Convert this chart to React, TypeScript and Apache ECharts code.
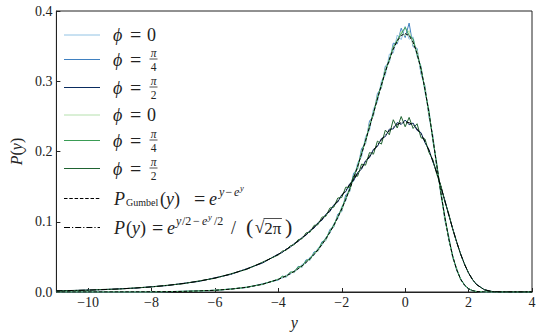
import React, { useEffect, useRef } from 'react';
import * as echarts from 'echarts';

const FF = 'Liberation Serif';

// shared y grid (x-axis values)
const yGrid = [
  -11, -10.5, -10, -9.5, -9, -8.5, -8, -7.5, -7, -6.5, -6, -5.5, -5, -4.5,
  -4, -3.875, -3.75, -3.625, -3.5, -3.375, -3.25, -3.125, -3, -2.875, -2.75, -2.625, -2.5, -2.375, -2.25, -2.125,
  -2, -1.875, -1.75, -1.625, -1.5, -1.375, -1.25, -1.125, -1, -0.875, -0.75, -0.625, -0.5, -0.375, -0.25, -0.125,
  0, 0.125, 0.25, 0.375, 0.5, 0.625, 0.75, 0.875, 1, 1.125, 1.25, 1.375, 1.5, 1.625, 1.75, 1.875,
  2, 2.125, 2.25,
  2.5, 2.75, 3, 3.5, 4,
];

const gumbelVals = [
  0.00002, 0.00003, 0.00005, 0.00007, 0.00012, 0.0002, 0.00034, 0.00055, 0.00091, 0.0015, 0.00247, 0.00407, 0.00669, 0.01099,
  0.01799, 0.02033, 0.02298, 0.02595, 0.0293, 0.03307, 0.0373, 0.04205, 0.04737, 0.05332, 0.05997, 0.06738, 0.07562, 0.08475, 0.09486, 0.106,
  0.1182, 0.13155, 0.1461, 0.16172, 0.1785, 0.19636, 0.2151, 0.23464, 0.2546, 0.27475, 0.2945, 0.31339, 0.3307, 0.34566, 0.3574, 0.36513,
  0.3679, 0.36489, 0.3556, 0.3396, 0.3171, 0.28844, 0.2549, 0.21787, 0.1794, 0.14154, 0.1064, 0.07577, 0.0507, 0.03164, 0.01823, 0.0096,
  0.00457, 0.00194, 0.00072,
  0.00006, 0, 0, 0, 0,
];

const wideVals = [
  0.00163, 0.00209, 0.00269, 0.00345, 0.00443, 0.00568, 0.00731, 0.00938, 0.01204, 0.01546, 0.01984, 0.02545, 0.03264, 0.04182,
  0.05351, 0.05688, 0.06048, 0.06427, 0.06829, 0.07255, 0.07705, 0.08181, 0.08683, 0.09212, 0.0977, 0.10356, 0.10971, 0.11614, 0.12287, 0.12989,
  0.13716, 0.1447, 0.15249, 0.16043, 0.16855, 0.17679, 0.18503, 0.19325, 0.2013, 0.20912, 0.2165, 0.22333, 0.2294, 0.23455, 0.2385, 0.24107,
  0.242, 0.24099, 0.2379, 0.23249, 0.2247, 0.21426, 0.2014, 0.18622, 0.169, 0.15009, 0.1301, 0.10982, 0.0898, 0.07096, 0.0539, 0.03909,
  0.027, 0.01755, 0.0107,
  0.00315, 0.00063, 0.00008, 0, 0,
];

const blue0 = [
  0, 0, 0, 0, 0, 0, 0.0001, 0.0005, 0.0011, 0.0013, 0.0027, 0.0038, 0.0072, 0.0105,
  0.0186, 0.0198, 0.0238, 0.0252, 0.0301, 0.0322, 0.0395, 0.0409, 0.0498, 0.0521, 0.0625, 0.0662, 0.0781, 0.0835, 0.0972, 0.1043,
  0.1218, 0.1295, 0.1512, 0.1578, 0.1842, 0.1921, 0.2215, 0.2298, 0.2612, 0.2701, 0.3008, 0.3082, 0.3385, 0.3401, 0.3658, 0.3592,
  0.3782, 0.3598, 0.3631, 0.3352, 0.3218, 0.2841, 0.2592, 0.2138, 0.1832, 0.1378, 0.1088, 0.0738, 0.0522, 0.0302, 0.0192, 0.0088,
  0.0046, 0.0019, 0.0007,
  0.0001, 0, 0, 0, 0,
];

const blue4 = [
  0, 0, 0, 0, 0, 0, 0.0002, 0.0004, 0.0008, 0.0017, 0.0022, 0.0044, 0.0064, 0.0116,
  0.0172, 0.0225, 0.0211, 0.0284, 0.0275, 0.0365, 0.0352, 0.0458, 0.0452, 0.0571, 0.0578, 0.0715, 0.0732, 0.0891, 0.0925, 0.1108,
  0.1145, 0.1382, 0.1428, 0.1691, 0.1748, 0.2042, 0.2111, 0.2432, 0.2508, 0.2825, 0.2901, 0.3215, 0.3268, 0.3542, 0.3532, 0.3755,
  0.3622, 0.3828, 0.3492, 0.3468, 0.3105, 0.2932, 0.2495, 0.2221, 0.1748, 0.1452, 0.1022, 0.0791, 0.0485, 0.0335, 0.0172, 0.0105,
  0.0043, 0.0021, 0.0006,
  0, 0, 0, 0, 0,
];

const blue2 = [
  0.0017, 0.0021, 0.0028, 0.0034, 0.0046, 0.0055, 0.0075, 0.0092, 0.0123, 0.0151, 0.0202, 0.0251, 0.0331, 0.0412,
  0.0541, 0.0562, 0.0612, 0.0635, 0.0692, 0.0718, 0.0779, 0.0808, 0.0878, 0.0908, 0.0988, 0.1021, 0.1108, 0.1145, 0.1242, 0.1281,
  0.1385, 0.1428, 0.1541, 0.1585, 0.1702, 0.1748, 0.1868, 0.1912, 0.2032, 0.2071, 0.2185, 0.2212, 0.2318, 0.2321, 0.2412, 0.2385,
  0.2448, 0.2381, 0.2405, 0.2301, 0.2268, 0.2125, 0.2028, 0.1851, 0.1702, 0.1495, 0.1308, 0.1095, 0.0902, 0.0708, 0.0541, 0.0392,
  0.0271, 0.0176, 0.0108,
  0.0032, 0.0006, 0.0001, 0, 0,
];

const green0 = [
  0, 0, 0, 0, 0, 0, 0.0001, 0.0006, 0.001, 0.0014, 0.0026, 0.004, 0.007, 0.0108,
  0.0182, 0.0219, 0.0216, 0.0276, 0.0279, 0.0348, 0.0358, 0.0438, 0.0458, 0.0551, 0.0581, 0.0695, 0.0738, 0.0868, 0.0931, 0.1085,
  0.1161, 0.1345, 0.1442, 0.1652, 0.1762, 0.2002, 0.2128, 0.2391, 0.2525, 0.2791, 0.2918, 0.3181, 0.3285, 0.3502, 0.3555, 0.3712,
  0.3645, 0.3722, 0.3518, 0.3442, 0.3138, 0.2912, 0.2518, 0.2202, 0.1768, 0.1435, 0.1041, 0.0775, 0.0491, 0.0331, 0.0172, 0.0102,
  0.0045, 0.002, 0.0007,
  0, 0, 0, 0, 0,
];

const green4 = [
  0, 0, 0, 0, 0, 0, 0.0001, 0.0005, 0.0009, 0.0016, 0.0024, 0.0042, 0.0066, 0.0112,
  0.0178, 0.0222, 0.0222, 0.0281, 0.0291, 0.0355, 0.0371, 0.0442, 0.0475, 0.0551, 0.0602, 0.0698, 0.0765, 0.0862, 0.0958, 0.1071,
  0.1195, 0.1332, 0.1465, 0.1635, 0.1792, 0.1978, 0.2162, 0.2351, 0.2555, 0.2762, 0.2952, 0.3145, 0.3311, 0.3482, 0.3588, 0.3675,
  0.3768, 0.3652, 0.3605, 0.3381, 0.3195, 0.2868, 0.2575, 0.2162, 0.1812, 0.1405, 0.1075, 0.0762, 0.0508, 0.0318, 0.0182, 0.0098,
  0.0047, 0.0018, 0.0008,
  0.0001, 0, 0, 0, 0,
];

const green2 = [
  0.0015, 0.0022, 0.0026, 0.0037, 0.0042, 0.0059, 0.0072, 0.0096, 0.0118, 0.0158, 0.0195, 0.0259, 0.0322, 0.0425,
  0.0528, 0.0582, 0.0595, 0.0658, 0.0672, 0.0745, 0.0758, 0.0842, 0.0851, 0.0948, 0.0958, 0.1065, 0.1078, 0.1195, 0.1208, 0.1338,
  0.1345, 0.1492, 0.1488, 0.1652, 0.1648, 0.1821, 0.1805, 0.1985, 0.1962, 0.2148, 0.2105, 0.2305, 0.2238, 0.2452, 0.2335, 0.2498,
  0.2352, 0.2485, 0.2328, 0.2395, 0.2195, 0.2178, 0.1985, 0.1881, 0.1672, 0.1518, 0.1288, 0.1112, 0.0891, 0.0715, 0.0535, 0.0395,
  0.0268, 0.0178, 0.0106,
  0.0031, 0.0006, 0.0001, 0, 0,
];

const xTicks = [-10, -8, -6, -4, -2, 0, 2, 4];

const COLORS = {
  b0: '#92c3e4',
  b4: '#3f80c0',
  b2: '#0a2c60',
  g0: '#b5e0ad',
  g4: '#3a9c55',
  g2: '#1f6331',
};
const DASH = [3.5, 1.8];
const DASHDOT = [6, 2, 1.2, 2];
const INK = '#222';

type Piece = {
  t?: string;
  s?: number;
  it?: boolean;
  dy?: number;
  ax?: number;
  frac?: [string, string];
  sqrt?: string;
};

let ctx2d: CanvasRenderingContext2D | null = null;
function tw(text: string, size: number, italic: boolean): number {
  if (!ctx2d) ctx2d = document.createElement('canvas').getContext('2d');
  if (!ctx2d) return text.length * size * 0.5;
  ctx2d.font = `${italic ? 'italic ' : ''}${size}px '${FF}'`;
  return ctx2d.measureText(text).width;
}

function textEl(t: string, x: number, y: number, s: number, it: boolean, align = 'left') {
  return {
    type: 'text',
    x,
    y,
    silent: true,
    style: {
      text: t,
      fontSize: s,
      fontFamily: FF,
      fontStyle: it ? 'italic' : 'normal',
      fill: INK,
      align,
      textAlign: align,
      verticalAlign: 'middle',
      textVerticalAlign: 'middle',
    },
  };
}

function lineEl(x1: number, y1: number, x2: number, y2: number, color = INK, dash?: number[], w = 1) {
  return {
    type: 'line',
    silent: true,
    shape: { x1, y1, x2, y2 },
    style: { stroke: color, lineWidth: w, lineDash: dash },
  };
}

function buildRow(yc: number, ps: Piece[], els: any[]) {
  let x = 0;
  for (const p of ps) {
    if (p.ax != null) x = p.ax;
    if (p.frac) {
      const s = p.s ?? 11.5;
      const w = 9;
      els.push(textEl(p.frac[0], x + w / 2, yc - 6.5, s, true, 'center'));
      els.push(lineEl(x + 0.5, yc - 0.5, x + w - 0.5, yc - 0.5, INK, undefined, 0.8));
      els.push(textEl(p.frac[1], x + w / 2, yc + 7.5, s, false, 'center'));
      x += w;
      continue;
    }
    if (p.sqrt) {
      const s = 17;
      const rw = tw('√', s, false);
      els.push(textEl('√', x, yc, s, false));
      x += rw;
      const w = tw(p.sqrt, s, false);
      els.push(lineEl(x - 0.8, yc - 9, x + w + 0.5, yc - 9, INK, undefined, 0.8));
      els.push(textEl(p.sqrt, x, yc + 1, s, false));
      x += w;
      continue;
    }
    const s = p.s ?? 18;
    const it = !!p.it;
    els.push(textEl(p.t as string, x, yc + (p.dy ?? 0), s, it));
    x += tw(p.t as string, s, it);
  }
}

function buildLegend() {
  const els: any[] = [];
  const phiHead: Piece[] = [{ t: 'ϕ', it: true, ax: 113 }, { t: '=', s: 20, ax: 130 }];
  const phi0: Piece[] = [...phiHead, { t: '0', ax: 147 }];
  const phi4: Piece[] = [...phiHead, { frac: ['π', '4'], ax: 149 }];
  const phi2: Piece[] = [...phiHead, { frac: ['π', '2'], ax: 149 }];
  const SS = 12;
  const gum: Piece[] = [
    { t: 'P', it: true, ax: 114 },
    { t: 'Gumbel', s: 10, dy: 4, ax: 126 },
    { t: '(', ax: 160 },
    { t: 'y', it: true },
    { t: ')' },
    { t: '=', s: 20, ax: 194 },
    { t: 'e', it: true, ax: 209 },
    { t: 'y', it: true, s: SS, dy: -7, ax: 219 },
    { t: '−', s: SS, dy: -7, ax: 225.5 },
    { t: 'e', it: true, s: SS, dy: -7, ax: 234 },
    { t: 'y', it: true, s: 8.5, dy: -10.5, ax: 240 },
  ];
  const pdf: Piece[] = [
    { t: 'P', it: true, ax: 114 },
    { t: '(', ax: 126 },
    { t: 'y', it: true },
    { t: ')' },
    { t: '=', s: 20, ax: 152 },
    { t: 'e', it: true, ax: 167 },
    { t: 'y', it: true, s: SS, dy: -7, ax: 176 },
    { t: '/2', s: SS, dy: -7, ax: 182 },
    { t: '−', s: SS, dy: -7, ax: 193 },
    { t: 'e', it: true, s: SS, dy: -7, ax: 202 },
    { t: 'y', it: true, s: 8.5, dy: -10.5, ax: 208 },
    { t: '/2', s: SS, dy: -7, ax: 214 },
    { t: '/', ax: 231 },
    { t: '(', s: 22, dy: -1, ax: 246 },
    { sqrt: '2π', ax: 255 },
    { t: ')', s: 22, dy: -1, ax: 285 },
  ];
  const rows: { y: number; color: string; dash?: number[]; pieces: Piece[] }[] = [
    { y: 35, color: COLORS.b0, pieces: phi0 },
    { y: 59.5, color: COLORS.b4, pieces: phi4 },
    { y: 87.5, color: COLORS.b2, pieces: phi2 },
    { y: 115, color: COLORS.g0, pieces: phi0 },
    { y: 140.5, color: COLORS.g4, pieces: phi4 },
    { y: 168.5, color: COLORS.g2, pieces: phi2 },
    { y: 198.5, color: '#000', dash: DASH, pieces: gum },
    { y: 227.5, color: '#000', dash: DASHDOT, pieces: pdf },
  ];
  for (const r of rows) {
    els.push(lineEl(64, r.y, 100, r.y, r.color, r.dash));
    buildRow(r.y, r.pieces, els);
  }
  return els;
}

function zip(vals: number[]) {
  return yGrid.map((x, i) => [x, vals[i]]);
}

export default function App() {
  const ref = useRef<HTMLDivElement>(null);
  useEffect(() => {
    if (!ref.current) return;
    const chart = echarts.init(ref.current, undefined, { renderer: 'svg' });
    const mk = (name: string, vals: number[], color: string, dash?: number[]) => ({
      name,
      type: 'line',
      data: zip(vals),
      symbol: 'none',
      showSymbol: false,
      silent: true,
      lineStyle: { color, width: 1, type: dash ?? 'solid' },
      itemStyle: { color },
    });
    chart.setOption({
      animation: false,
      backgroundColor: '#fff',
      grid: {
        left: 48,
        right: 8,
        top: 11,
        bottom: 41,
        show: true,
        borderColor: '#222',
        borderWidth: 1,
        backgroundColor: 'transparent',
      },
      xAxis: {
        type: 'value',
        min: -11,
        max: 4,
        splitLine: { show: false },
        axisLine: { show: true, onZero: false, lineStyle: { color: '#222', width: 1 } },
        axisTick: { show: true, inside: true, length: 4, customValues: xTicks, lineStyle: { color: '#222' } },
        axisLabel: {
          customValues: xTicks,
          formatter: (v: number) => (v < 0 ? '−' + Math.abs(v) : String(v)),
          fontSize: 14,
          fontFamily: FF,
          color: INK,
          margin: 3,
        },
        name: 'y',
        nameLocation: 'middle',
        nameGap: 22,
        nameTextStyle: { fontSize: 16, fontFamily: FF, fontStyle: 'italic', color: INK },
      },
      yAxis: {
        type: 'value',
        min: 0,
        max: 0.4,
        interval: 0.1,
        splitLine: { show: false },
        axisLine: { show: true, onZero: false, lineStyle: { color: '#222', width: 1 } },
        axisTick: { show: true, inside: true, length: 4, lineStyle: { color: '#222' } },
        axisLabel: {
          formatter: (v: number) => v.toFixed(1),
          fontSize: 14,
          fontFamily: FF,
          color: INK,
          margin: 4,
        },
        name: '{i|P}{r|(}{i|y}{r|)}',
        nameLocation: 'middle',
        nameGap: 30,
        nameTextStyle: {
          rich: {
            i: { fontSize: 16, fontFamily: FF, fontStyle: 'italic', color: INK },
            r: { fontSize: 16, fontFamily: FF, color: INK },
          },
        },
      },
      series: [
        mk('phi0 blue', blue0, COLORS.b0),
        mk('phi pi/4 blue', blue4, COLORS.b4),
        mk('phi pi/2 blue', blue2, COLORS.b2),
        mk('phi0 green', green0, COLORS.g0),
        mk('phi pi/4 green', green4, COLORS.g4),
        mk('phi pi/2 green', green2, COLORS.g2),
        mk('P Gumbel', gumbelVals, '#000', DASH),
        mk('P(y)', wideVals, '#000', DASHDOT),
      ],
      graphic: buildLegend(),
    });
    return () => chart.dispose();
  }, []);
  return (
    <div
      ref={ref}
      style={{ position: 'fixed', left: 0, top: 0, width: 540, height: 335, background: '#fff' }}
    />
  );
}
